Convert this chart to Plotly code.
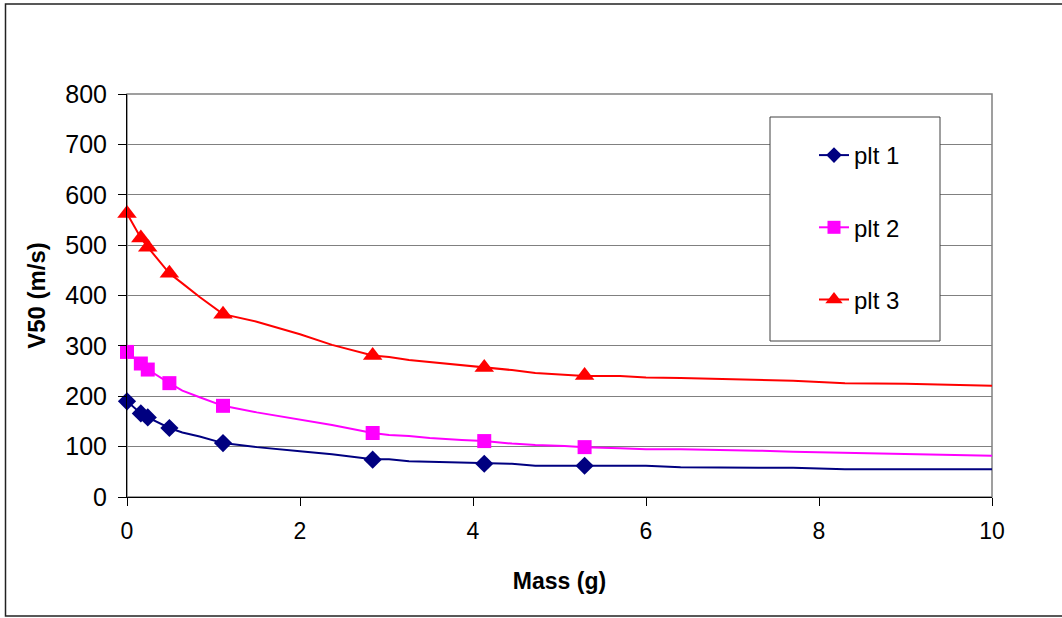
import plotly.graph_objects as go

# Measured points (markers)
mass_pts = [0, 0.16, 0.24, 0.49, 1.11, 2.84, 4.13, 5.29]
v50_plt1 = [190, 166, 158, 137, 107, 74, 66, 62]
v50_plt2 = [288, 265, 253, 226, 181, 127, 111, 99]
v50_plt3 = [563, 514, 496, 444, 363, 281, 257, 241]

# Curve values
mass_line = [0, 0.16, 0.24, 0.49, 0.64, 0.84, 1.11, 1.5, 2.0, 2.37, 2.84, 3.03, 3.26, 3.5,
             3.87, 4.13, 4.45, 4.72, 5.06, 5.29, 5.7, 6.0, 6.4, 6.8, 7.3, 7.7, 8.3, 9.0, 10.0]
line_plt1 = [190, 166, 158, 137, 128, 120, 107, 99, 91, 85, 75, 75, 71, 70,
             67, 66, 66, 62, 62, 62, 62, 62, 59, 58, 58, 58, 55, 55, 55]
line_plt2 = [288, 265, 253, 226, 211, 198, 181, 168, 154, 143, 127, 123, 121, 117,
             113, 111, 106, 103, 101, 99, 97, 95, 95, 94, 92, 90, 88, 85, 82]
line_plt3 = [563, 514, 496, 444, 424, 397, 363, 348, 323, 302, 281, 278, 272, 268,
             261, 257, 252, 246, 243, 240, 240, 237, 236, 234, 233, 231, 226, 225, 221]

names = ["plt 1", "plt 2", "plt 3"]
colors = ["#000080", "#FF00FF", "#FF0000"]
symbols = ["diamond", "square", "triangle-up"]
sizes = [14, 14, 17]
legend_sizes = [12, 13, 15]

x_ticks = [0, 2, 4, 6, 8, 10]
y_ticks = [0, 100, 200, 300, 400, 500, 600, 700, 800]

FONT = "Liberation Sans, Arial, sans-serif"

fig = go.Figure()
for name, col, sym, sz, ly, py in zip(names, colors, symbols, sizes,
                                      [line_plt1, line_plt2, line_plt3],
                                      [v50_plt1, v50_plt2, v50_plt3]):
    fig.add_trace(go.Scatter(x=mass_line, y=ly, mode="lines", line=dict(color=col, width=2),
                             showlegend=False, hoverinfo="skip"))
    fig.add_trace(go.Scatter(x=mass_pts, y=py, mode="markers", cliponaxis=False,
                             marker=dict(symbol=sym, color=col, size=sz), showlegend=False))
for name, col, sym, sz in zip(names, colors, symbols, legend_sizes):
    fig.add_trace(go.Scatter(x=[None], y=[None], mode="lines+markers", name=name,
                             legendgroup=name,
                             line=dict(color=col, width=2),
                             marker=dict(symbol=sym, color=col, size=sz)))

L, R, T, B = 127, 992, 94, 497
W = R - L
H = B - T

def px(xp):
    return (xp - L) / W

def py_(yp):
    return (B - yp) / H

shapes = [
    # plot area border
    dict(type="rect", xref="paper", yref="paper", x0=0, x1=1, y0=0, y1=1,
         line=dict(color="#808080", width=1.5), layer="below"),
    # outer chart frame
    dict(type="rect", xref="paper", yref="paper", x0=px(5.5), x1=px(1100), y0=py_(616), y1=py_(4),
         line=dict(color="#222222", width=1.5), layer="below"),
    # legend box
    dict(type="rect", xref="paper", yref="paper", x0=px(770), x1=px(940), y0=py_(341), y1=py_(117),
         line=dict(color="#404040", width=1), fillcolor="white", layer="above"),
]

fig.update_layout(
    width=1062, height=618,
    margin=dict(l=L, r=1062 - R, t=T, b=618 - B),
    paper_bgcolor="white", plot_bgcolor="white",
    font=dict(family=FONT, size=23, color="black"),
    shapes=shapes,
    showlegend=True,
    legend=dict(x=px(814), y=py_(133), xanchor="left", yanchor="top",
                bgcolor="rgba(0,0,0,0)", borderwidth=0,
                font=dict(size=24), tracegroupgap=38, traceorder="grouped"),
    xaxis=dict(range=[0, 10], tickvals=x_ticks, showgrid=False, zeroline=False,
               showline=True, linecolor="black", linewidth=1,
               ticks="outside", ticklen=8, tickcolor="black", ticklabelstandoff=5,
               tickfont=dict(size=23),
               title=dict(text="<b>Mass (g)</b>", font=dict(size=23), standoff=30)),
    yaxis=dict(range=[0, 800], tickvals=y_ticks, showgrid=True, gridcolor="#808080", gridwidth=1,
               zeroline=False, showline=True, linecolor="black", linewidth=1,
               ticks="outside", ticklen=8, tickcolor="black", ticklabelstandoff=6,
               tickfont=dict(size=25),
               title=dict(text="<b>V50 (m/s)</b>", font=dict(size=24), standoff=12)),
)

fig.write_html("out.html", config={"displayModeBar": False},
               post_script="document.body.style.margin='0';")
